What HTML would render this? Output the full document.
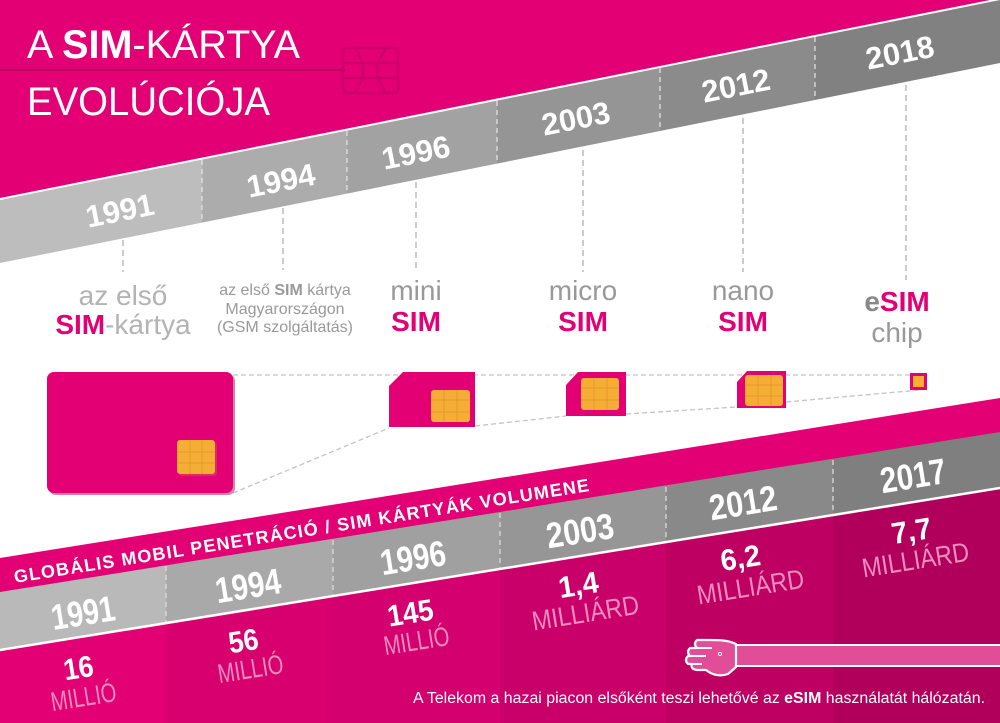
<!DOCTYPE html>
<html><head><meta charset="utf-8">
<style>
html,body{margin:0;padding:0;background:#fff;}
svg{display:block;}
text{font-family:"Liberation Sans",sans-serif;}
</style></head><body>
<svg width="1000" height="723" viewBox="0 0 1000 723" xmlns="http://www.w3.org/2000/svg">
<rect width="1000" height="723" fill="#fff"/>
<polygon points="0,0 1000,0 1000,-1 0,199" fill="#e20074"/>
<line x1="0" y1="70" x2="345" y2="70" stroke="#c0005f" stroke-width="2"/>
<g fill="none" stroke="#c8006a" stroke-width="2.5" opacity="0.8">
<rect x="343" y="48" width="55" height="45" rx="4"/>
<rect x="363" y="63" width="14" height="15"/>
<path d="M343 63H363M377 63H398M343 78H363M377 78H398M355 48L363 63M386 48L377 63M355 93L363 78M386 93L377 78"/>
</g>
<text x="27" y="58" fill="#fff" font-size="40" textLength="273" lengthAdjust="spacingAndGlyphs">A <tspan font-weight="bold">SIM</tspan>-KÁRTYA</text>
<text x="27" y="115" fill="#fff" font-size="40" textLength="243" lengthAdjust="spacingAndGlyphs">EVOLÚCIÓJA</text>
<polygon points="0,199 202,158.6 202,222.6 0,263" fill="#bdbdbd"/>
<polygon points="202,158.6 347,129.6 347,193.6 202,222.6" fill="#acacac"/>
<polygon points="347,129.6 497,99.6 497,163.6 347,193.6" fill="#a2a2a2"/>
<polygon points="497,99.6 660,67 660,131 497,163.6" fill="#959595"/>
<polygon points="660,67 815,36 815,100 660,131" fill="#8b8b8b"/>
<polygon points="815,36 1000,-1 1000,63 815,100" fill="#818181"/>
<line x1="0" y1="199" x2="1000" y2="-1" stroke="#fff" stroke-width="2"/>
<g stroke="#e6e6e6" stroke-width="1.2" stroke-dasharray="5,4">
<line x1="202" y1="160" x2="202" y2="222"/><line x1="347" y1="131" x2="347" y2="193"/>
<line x1="497" y1="101" x2="497" y2="163"/><line x1="660" y1="68" x2="660" y2="131"/>
<line x1="815" y1="37" x2="815" y2="100"/>
</g>
<g stroke="#bbb" stroke-width="1.5" stroke-dasharray="6,4">
<line x1="123" y1="240" x2="123" y2="272"/><line x1="283" y1="208" x2="283" y2="270"/>
<line x1="416" y1="182" x2="416" y2="272"/><line x1="583" y1="150" x2="583" y2="272"/>
<line x1="743" y1="118" x2="743" y2="272"/><line x1="906" y1="85" x2="906" y2="280"/>
</g>
<g fill="#fff" font-size="31" font-weight="bold" text-anchor="middle">
<text x="122" y="221" transform="rotate(-11.3 122 221)">1991</text>
<text x="283" y="191" transform="rotate(-11.3 283 191)">1994</text>
<text x="418" y="163" transform="rotate(-11.3 418 163)">1996</text>
<text x="578" y="129" transform="rotate(-11.3 578 129)">2003</text>
<text x="738" y="96" transform="rotate(-11.3 738 96)">2012</text>
<text x="902" y="63" transform="rotate(-11.3 902 63)">2018</text>
</g>
<g text-anchor="middle" fill="#b3b3b3">
<text x="123" y="305" font-size="28">az első</text>
<text x="123" y="334" font-size="28"><tspan fill="#e20074" font-weight="bold">SIM</tspan>-kártya</text>
<text x="285" y="295" font-size="16" fill="#999">az első <tspan font-weight="bold">SIM</tspan> kártya</text>
<text x="285" y="314" font-size="16" fill="#999">Magyarországon</text>
<text x="285" y="332" font-size="16" fill="#999">(GSM szolgáltatás)</text>
<text x="416" y="300" font-size="28" fill="#999">mini</text>
<text x="416" y="331" font-size="28" fill="#e20074" font-weight="bold">SIM</text>
<text x="583" y="300" font-size="28" fill="#999">micro</text>
<text x="583" y="331" font-size="28" fill="#e20074" font-weight="bold">SIM</text>
<text x="743" y="300" font-size="28" fill="#999">nano</text>
<text x="743" y="331" font-size="28" fill="#e20074" font-weight="bold">SIM</text>
<text x="897" y="311" font-size="28" font-weight="bold" fill="#888">e<tspan fill="#e20074">SIM</tspan></text>
<text x="897" y="342" font-size="28" fill="#999">chip</text>
</g>
<g stroke="#c4c4c4" stroke-width="1.3" stroke-dasharray="5,3" fill="none">
<line x1="233" y1="375" x2="910" y2="375"/>
<polyline points="233,493 389,428"/>
<polyline points="475,426 566,416"/>
<polyline points="626,414 737,407"/>
<polyline points="786,402 920,390"/>
</g>
<rect x="49" y="374" width="186" height="121" rx="7" fill="#b8005c" opacity="0.5"/>
<rect x="47" y="372" width="186" height="121" rx="7" fill="#e20074"/>
<rect x="179" y="442" width="38" height="34" rx="3" fill="#d07030" opacity=".4"/>
<rect x="177" y="440" width="38" height="34" rx="3" fill="#f4ae35"/>
<path d="M389 386 L403 372 H475 V427 H389 Z" fill="#e20074"/>
<rect x="431" y="390" width="39" height="32" rx="3" fill="#f4ae35"/>
<path d="M566 385 L578 372 H626 V416 H566 Z" fill="#e20074"/>
<rect x="581" y="378" width="38" height="32" rx="3" fill="#f4ae35"/>
<path d="M737 382 L747 371 H786 V408 H737 Z" fill="#e20074"/>
<rect x="745" y="375" width="38" height="31" rx="3" fill="#f4ae35"/>
<rect x="910" y="373" width="17" height="17" fill="#e20074"/>
<rect x="913" y="376" width="11" height="11" fill="#f4ae35"/>
<g stroke="#e8952a" stroke-width="1" fill="none">
<path d="M177 452H215M177 463H215M190 440V474M202 440V474"/>
<path d="M431 400H470M431 412H470M444 390V422M457 390V422"/>
<path d="M581 388H619M581 400H619M594 378V410M607 378V410"/>
<path d="M745 385H783M745 396H783M758 375V406M771 375V406"/>
</g>
<polygon points="0,558 1000,398 1000,723 0,723" fill="#e20074"/>
<polygon points="0,592 166,565.4 166,623.1 0,650" fill="#b9b9b9"/>
<polygon points="166,565.4 333,538.7 333,596.1 166,623.1" fill="#a9a9a9"/>
<polygon points="333,538.7 500,512 500,569 333,596.1" fill="#a0a0a0"/>
<polygon points="500,512 666,485.4 666,542.1 500,569" fill="#969696"/>
<polygon points="666,485.4 833,458.7 833,515.1 666,542.1" fill="#898989"/>
<polygon points="833,458.7 1000,432 1000,488 833,515.1" fill="#7f7f7f"/>
<polygon points="0,650 166,623.1 166,723 0,723" fill="#e20074"/>
<polygon points="166,623.1 333,596.1 333,723 166,723" fill="#d8006f"/>
<polygon points="333,596.1 500,569 500,723 333,723" fill="#d5006f"/>
<polygon points="500,569 666,542.1 666,723 500,723" fill="#c9006a"/>
<polygon points="666,542.1 833,515.1 833,723 666,723" fill="#bd0062"/>
<polygon points="833,515.1 1000,488 1000,723 833,723" fill="#b0005c"/>
<line x1="0" y1="650" x2="1000" y2="488" stroke="#fff" stroke-width="2.5"/>
<g stroke="#e0e0e0" stroke-width="1.2" stroke-dasharray="5,4">
<line x1="166" y1="566" x2="166" y2="622"/><line x1="333" y1="540" x2="333" y2="595"/>
<line x1="500" y1="513" x2="500" y2="568"/><line x1="666" y1="487" x2="666" y2="541"/>
<line x1="833" y1="460" x2="833" y2="514"/>
</g>
<text x="15" y="583" fill="#fff" font-size="18" font-weight="bold" letter-spacing="1.2" transform="rotate(-9.1 15 583)">GLOBÁLIS MOBIL PENETRÁCIÓ / SIM KÁRTYÁK VOLUMENE</text>
<g fill="#fff" font-size="36" font-weight="bold" text-anchor="middle" lengthAdjust="spacingAndGlyphs">
<text x="85" y="625" textLength="64" lengthAdjust="spacingAndGlyphs" transform="rotate(-9.1 85 625)">1991</text>
<text x="250" y="598" textLength="66" lengthAdjust="spacingAndGlyphs" transform="rotate(-9.1 250 598)">1994</text>
<text x="415" y="570" textLength="66" lengthAdjust="spacingAndGlyphs" transform="rotate(-9.1 415 570)">1996</text>
<text x="582" y="543" textLength="68" lengthAdjust="spacingAndGlyphs" transform="rotate(-9.1 582 543)">2003</text>
<text x="745" y="515" textLength="68" lengthAdjust="spacingAndGlyphs" transform="rotate(-9.1 745 515)">2012</text>
<text x="915" y="488" textLength="66" lengthAdjust="spacingAndGlyphs" transform="rotate(-9.1 915 488)">2017</text>
</g>
<g text-anchor="middle">
<g fill="#fff" font-size="30" font-weight="bold">
<text x="80" y="678" textLength="30" lengthAdjust="spacingAndGlyphs" transform="rotate(-9.1 80 678)">16</text>
<text x="245" y="651" textLength="30" lengthAdjust="spacingAndGlyphs" transform="rotate(-9.1 245 651)">56</text>
<text x="412" y="623" textLength="46" lengthAdjust="spacingAndGlyphs" transform="rotate(-9.1 412 623)">145</text>
<text x="580" y="595" textLength="40" lengthAdjust="spacingAndGlyphs" transform="rotate(-9.1 580 595)">1,4</text>
<text x="742" y="568" textLength="40" lengthAdjust="spacingAndGlyphs" transform="rotate(-9.1 742 568)">6,2</text>
<text x="913" y="541" textLength="40" lengthAdjust="spacingAndGlyphs" transform="rotate(-9.1 913 541)">7,7</text>
</g>
<g fill="#f08cc0" font-size="27">
<text x="85" y="706" textLength="66" lengthAdjust="spacingAndGlyphs" transform="rotate(-9.1 85 706)">MILLIÓ</text>
<text x="252" y="678" textLength="66" lengthAdjust="spacingAndGlyphs" transform="rotate(-9.1 252 678)">MILLIÓ</text>
<text x="418" y="650" textLength="66" lengthAdjust="spacingAndGlyphs" transform="rotate(-9.1 418 650)">MILLIÓ</text>
<text x="587" y="622" textLength="108" lengthAdjust="spacingAndGlyphs" transform="rotate(-9.1 587 622)">MILLIÁRD</text>
<text x="752" y="596" textLength="108" lengthAdjust="spacingAndGlyphs" transform="rotate(-9.1 752 596)">MILLIÁRD</text>
<text x="917" y="569" textLength="108" lengthAdjust="spacingAndGlyphs" transform="rotate(-9.1 917 569)">MILLIÁRD</text>
</g>
</g>
<rect x="730" y="645" width="275" height="21" fill="#e24d98" stroke="#fff" stroke-width="2"/>
<path d="M736 644 C728 640 718 640 708 640 H697 Q693 644 697 648 H690 Q686 652 690 656 H688 Q684 660 688 664 H692 Q690 669 697 670 H706 Q716 678 728 674 L736 667 Z" fill="#e24d98" stroke="#fff" stroke-width="2.2" stroke-linejoin="round"/>
<path d="M697 648 H712 M690 656 H706 M688 664 H702" stroke="#fff" stroke-width="2" fill="none"/>
<circle cx="720" cy="654" r="1.6" fill="none" stroke="#fff"/>
<text x="985" y="703" text-anchor="end" fill="#fff" font-size="15.5" textLength="572" lengthAdjust="spacingAndGlyphs">A Telekom a hazai piacon elsőként teszi lehetővé az <tspan font-weight="bold">eSIM</tspan> használatát hálózatán.</text>
</svg>
</body></html>
